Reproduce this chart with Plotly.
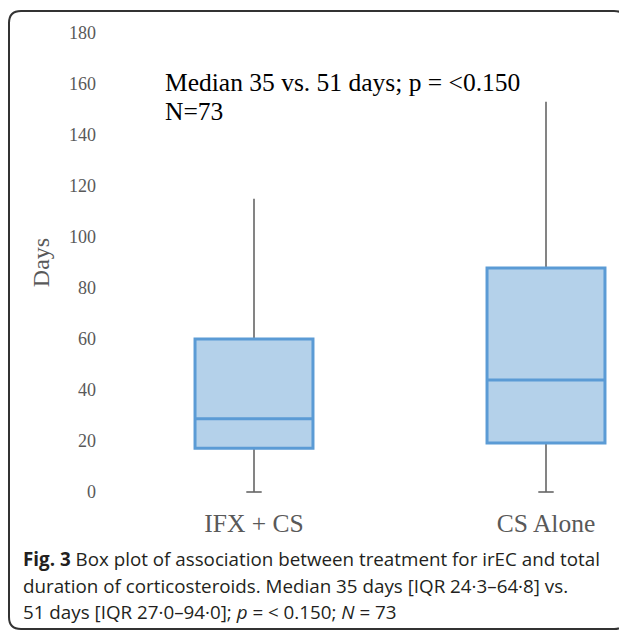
import plotly.graph_objects as go

# ---- data ----
categories = ["IFX + CS", "CS Alone"]
lower_fence = [0, 0]
q1 = [17.2, 19.2]
median = [28.7, 43.9]
q3 = [60, 87.8]
upper_fence = [115, 153]
y_ticks = [0, 20, 40, 60, 80, 100, 120, 140, 160, 180]
y_title = "Days"
note_lines = ["Median 35 vs. 51 days; p = <0.150", "N=73"]
caption_lines = [
    "<b>Fig. 3</b> Box plot of association between treatment for irEC and total",
    "duration of corticosteroids. Median 35 days [IQR 24·3–64·8] vs.",
    "51 days [IQR 27·0–94·0]; <i>p</i> = &lt; 0.150; <i>N</i> = 73",
]

OFF = 8  # page body margin
W, H = 627 - OFF, 630 - OFF
L, R, T, B = 97 - OFF, 0, 33 - OFF, 138
PW, PH = W - L - R, H - T - B


def px(x):
    return (x - OFF - L) / PW


def py(y):
    return (H - B - (y - OFF)) / PH


GRAY = "#666666"
BLUE = "#5b9bd5"
FILL = "#b4d1ea"
SERIF = "Liberation Serif, Times New Roman, serif"

fig = go.Figure()
# whiskers (gray)
fig.add_trace(go.Box(
    x=categories, q1=q1, median=median, q3=q3,
    lowerfence=lower_fence, upperfence=upper_fence,
    width=0.404, whiskerwidth=0, fillcolor=FILL,
    line=dict(color=GRAY, width=1.6), boxpoints=False,
    hoverinfo="skip", showlegend=False,
))
# boxes (blue)
fig.add_trace(go.Box(
    x=categories, q1=q1, median=median, q3=q3,
    lowerfence=q1, upperfence=q3,
    width=0.404, whiskerwidth=0, fillcolor=FILL,
    line=dict(color=BLUE, width=3), boxpoints=False,
    hoverinfo="skip", showlegend=False,
))
# lower whisker caps
fig.add_trace(go.Scatter(
    x=categories, y=lower_fence, mode="markers",
    marker=dict(symbol="line-ew", size=11, line=dict(color=GRAY, width=1.6)),
    hoverinfo="skip", showlegend=False, cliponaxis=False,
))

fig.update_layout(
    width=W, height=H,
    margin=dict(l=L, r=R, t=T, b=B),
    paper_bgcolor="white", plot_bgcolor="white",
    boxmode="overlay",
    xaxis=dict(
        type="category", range=[-(254 - OFF - L) / 292, 1 + (627 - 546) / 292],
        showgrid=False, zeroline=False, showline=False,
        ticks="outside", ticklen=8, tickcolor="rgba(0,0,0,0)",
        tickfont=dict(family=SERIF, size=25.5, color="#595959"),
    ),
    yaxis=dict(
        range=[0, 180], tickvals=y_ticks, showgrid=False, zeroline=False,
        showline=False, ticks="",
        tickfont=dict(family=SERIF, size=18, color="#595959"),
        title=dict(text=y_title, font=dict(family=SERIF, size=24, color="#595959"), standoff=12),
    ),
)

for i, line in enumerate(note_lines):
    fig.add_annotation(
        xref="paper", yref="paper", x=px(163), y=py(82 + 30 * i),
        xanchor="left", yanchor="middle", text=line, showarrow=False, align="left",
        font=dict(family=SERIF, size=25.5, color="black"),
    )

for i, line in enumerate(caption_lines):
    fig.add_annotation(
        xref="paper", yref="paper", x=px(21), y=py(559 + 26.5 * i),
        xanchor="left", yanchor="middle", text=line, showarrow=False, align="left",
        font=dict(family="Open Sans, sans-serif", size=18.8, color="#231f20"),
    )

# rounded frame
x0, x1, y0, y1, r = 9, 626, 11, 629, 12
path = (
    f"M {px(x0)},{py(y0 + r)} Q {px(x0)},{py(y0)} {px(x0 + r)},{py(y0)} "
    f"L {px(x1 - r)},{py(y0)} Q {px(x1)},{py(y0)} {px(x1)},{py(y0 + r)} "
    f"L {px(x1)},{py(y1 - r)} Q {px(x1)},{py(y1)} {px(x1 - r)},{py(y1)} "
    f"L {px(x0 + r)},{py(y1)} Q {px(x0)},{py(y1)} {px(x0)},{py(y1 - r)} Z"
)
fig.add_shape(type="path", xref="paper", yref="paper", path=path,
              line=dict(color="#333333", width=2), layer="below")

fig.write_html("out.html")
